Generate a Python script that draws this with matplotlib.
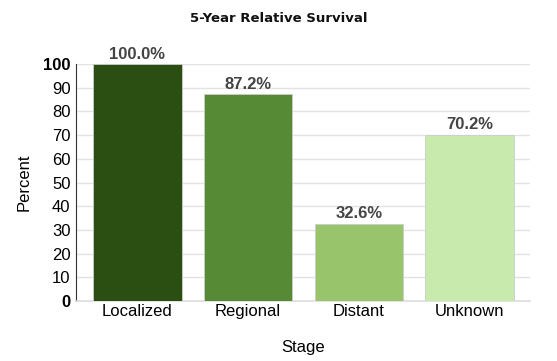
import matplotlib
matplotlib.use('Agg')
import matplotlib.pyplot as plt

# Data
stages = ['Localized', 'Regional', 'Distant', 'Unknown']
survival = [100.0, 87.2, 32.6, 70.2]
colors = ['#2b4f12', '#578a34', '#98c46c', '#c9eaad']
yticks = list(range(0, 101, 10))

plt.rcParams['font.family'] = ['Liberation Sans', 'DejaVu Sans']

fig = plt.figure(figsize=(5.57, 3.61), dpi=100)
ax = fig.add_axes([0.1364, 0.1662, 0.8151, 0.6565])

x = range(len(stages))
bars = ax.bar(x, survival, width=0.8, color=colors, edgecolor='#cccccc',
              linewidth=0.6, zorder=3)

for b, v in zip(bars, survival):
    ax.text(b.get_x() + b.get_width() / 2, v + 1.0, f'{v:.1f}%',
            ha='center', va='bottom', fontsize=12, fontweight='bold',
            color='#444444')

ax.set_xlim(-0.555, 3.545)
ax.set_ylim(0, 100)
ax.set_yticks(yticks)
ax.set_yticklabels([str(t) for t in yticks], fontsize=12)
for lbl in ax.get_yticklabels():
    if lbl.get_text() in ('0', '100'):
        lbl.set_fontweight('bold')
ax.set_xticks(list(x))
ax.set_xticklabels(stages, fontsize=12)

ax.yaxis.grid(True, color='#e3e3e3', linewidth=1, zorder=0)
ax.tick_params(axis='y', length=0, pad=4)
ax.tick_params(axis='x', length=0, pad=2)

for s in ['top', 'right']:
    ax.spines[s].set_visible(False)
ax.spines['left'].set_color('#333333')
ax.spines['left'].set_linewidth(0.8)
ax.spines['bottom'].set_color('#dddddd')
ax.spines['bottom'].set_linewidth(1.2)

ax.set_ylabel('Percent', fontsize=12, labelpad=8)
ax.set_xlabel('Stage', fontsize=12, labelpad=15)
fig.text(0.5, 0.950, '5-Year Relative Survival', ha='center', va='center',
         fontsize=9.5, fontweight='bold', family='DejaVu Sans', color='#111111')

fig.savefig('out.png', dpi=100)
plt.close(fig)
